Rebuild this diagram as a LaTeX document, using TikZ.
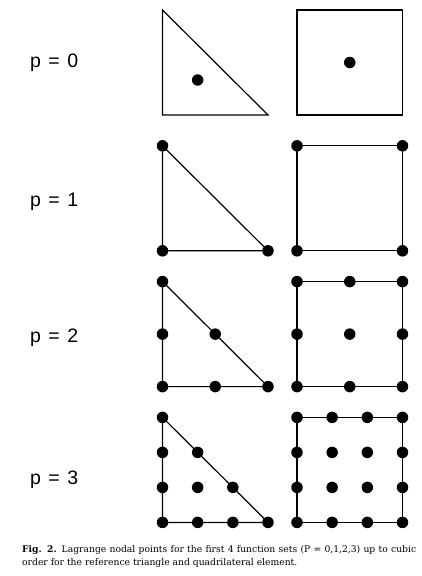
\documentclass[tikz,border=0pt]{standalone}
\usepackage{fontspec}
\usetikzlibrary{calc}
\setmainfont{DejaVu Serif}
\newfontfamily\labelfont{Liberation Sans}
\begin{document}
\begin{tikzpicture}[x=1pt,y=-1pt,
  edge/.style={line width=1.2pt, line join=miter},
  nodept/.style={circle,fill=black,inner sep=0pt,minimum size=11.5pt},
  plabel/.style={font=\labelfont\fontsize{19.5}{24}\selectfont, anchor=base west, inner sep=0pt},
  captext/.style={anchor=north west, inner sep=0pt, text width=394pt, align=justify,
    font=\fontsize{9.2}{13}\selectfont}]
\useasboundingbox (0,0) rectangle (421,576);
\def\TL{162.5}\def\TR{268}\def\QL{297}\def\QR{402.5}\def\H{105}
\foreach \r/\t/\lb in {0/10/67.3,1/145.8/206.7,2/281.6/342.3,3/417.4/484}{
  \pgfmathsetmacro\b{\t+\H}
  \coordinate (T\r a) at (\TL,\b);
  \coordinate (T\r b) at (\TR,\b);
  \coordinate (T\r c) at (\TL,\t);
  \coordinate (Q\r a) at (\QL,\b);
  \coordinate (Q\r b) at (\QR,\b);
  \coordinate (Q\r c) at (\QR,\t);
  \coordinate (Q\r d) at (\QL,\t);
  \draw[edge] (T\r a) -- (T\r b) -- (T\r c) -- cycle;
  \draw[edge] (Q\r a) -- (Q\r b) -- (Q\r c) -- (Q\r d) -- cycle;
  \node[plabel] (lab\r) at (30,\lb) {p\hspace{0.38em}=\hspace{0.38em}\r};
}
% p = 0
\node[nodept] (t0c) at (barycentric cs:T0a=1,T0b=1,T0c=1) {};
\node[nodept] (q0c) at ($(Q0a)!0.5!(Q0c)$) {};
% p = 1..3
\foreach \r/\t in {1/145.8,2/281.6,3/417.4}{
  \pgfmathsetmacro\b{\t+\H}
  \foreach \i in {0,...,\r}{
    \pgfmathtruncatemacro\m{\r-\i}
    \foreach \j in {0,...,\m}{
      \pgfmathsetmacro\x{\TL+\i*(\TR-\TL)/\r}
      \pgfmathsetmacro\y{\b-\j*\H/\r}
      \node[nodept] (t\r-\i-\j) at (\x,\y) {};
    }
    \foreach \j in {0,...,\r}{
      \pgfmathsetmacro\x{\QL+\i*(\QR-\QL)/\r}
      \pgfmathsetmacro\y{\b-\j*\H/\r}
      \node[nodept] (q\r-\i-\j) at (\x,\y) {};
    }
  }
}
\node[captext] (cap) at (22,545) {\textbf{Fig. 2.} Lagrange nodal points for the first 4 function sets (P = 0,1,2,3) up to cubic\linebreak order for the reference triangle and quadrilateral element.};
\end{tikzpicture}
\end{document}
